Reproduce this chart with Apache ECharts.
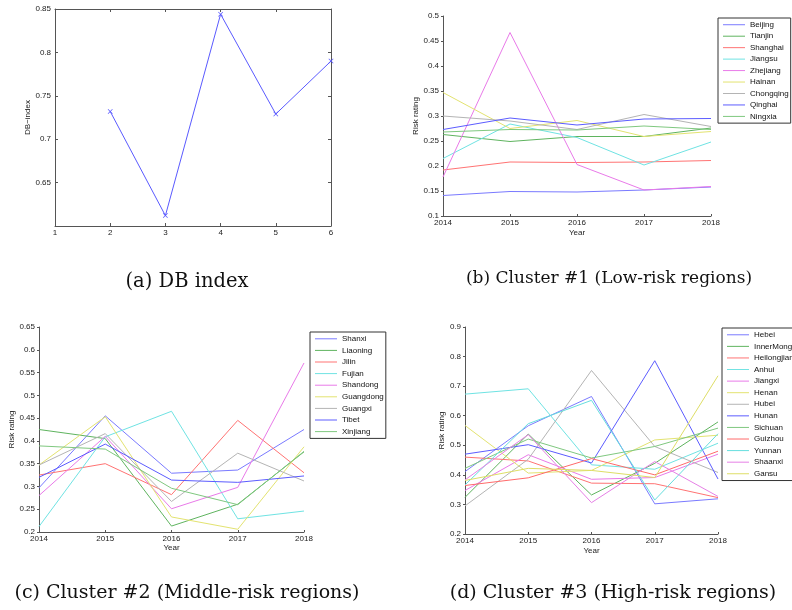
<!DOCTYPE html>
<html>
<head>
<meta charset="utf-8">
<script src="https://cdn.jsdelivr.net/npm/echarts@6/dist/echarts.min.js"></script>
<style>
html,body{margin:0;padding:0;background:#fff;}
#chart{width:792px;height:610px;}
</style>
</head>
<body>
<div id="chart"></div>
<script>
// ---------- DATA ----------
const kValues = [2, 3, 4, 5, 6];
const dbIndex = [0.732, 0.612, 0.844, 0.729, 0.790];

const years = ['2014', '2015', '2016', '2017', '2018'];

// Cluster #1 (low-risk)
const c1Names = ['Beijing', 'Tianjin', 'Shanghai', 'Jiangsu', 'Zhejiang', 'Hainan', 'Chongqing', 'Qinghai', 'Ningxia'];
const beijing   = [0.141, 0.149, 0.148, 0.152, 0.158];
const tianjin   = [0.263, 0.249, 0.259, 0.259, 0.276];
const shanghai  = [0.192, 0.208, 0.207, 0.208, 0.211];
const jiangsu   = [0.215, 0.284, 0.257, 0.202, 0.248];
const zhejiang  = [0.178, 0.467, 0.203, 0.152, 0.159];
const hainan    = [0.347, 0.275, 0.291, 0.259, 0.269];
const chongqing = [0.300, 0.290, 0.273, 0.303, 0.279];
const qinghai   = [0.273, 0.296, 0.282, 0.294, 0.295];
const ningxia   = [0.268, 0.273, 0.272, 0.280, 0.273];

// Cluster #2 (middle-risk)
const c2Names = ['Shanxi', 'Liaoning', 'Jilin', 'Fujian', 'Shandong', 'Guangdong', 'Guangxi', 'Tibet', 'Xinjiang'];
const shanxi    = [0.297, 0.455, 0.329, 0.336, 0.425];
const liaoning  = [0.425, 0.405, 0.213, 0.261, 0.376];
const jilin     = [0.325, 0.350, 0.282, 0.445, 0.330];
const fujian    = [0.212, 0.409, 0.465, 0.229, 0.246];
const shandong  = [0.280, 0.410, 0.251, 0.298, 0.571];
const guangdong = [0.347, 0.453, 0.233, 0.206, 0.387];
const guangxi   = [0.347, 0.416, 0.267, 0.373, 0.312];
const tibet     = [0.320, 0.393, 0.314, 0.309, 0.323];
const xinjiang  = [0.389, 0.382, 0.296, 0.260, 0.377];

// Cluster #3 (high-risk)
const c3Names = ['Hebei', 'InnerMongolia', 'Heilongjiang', 'Anhui', 'Jiangxi', 'Henan', 'Hubei', 'Hunan', 'Sichuan', 'Guizhou', 'Yunnan', 'Shaanxi', 'Gansu'];
const hebei         = [0.411, 0.566, 0.665, 0.302, 0.319];
const innerMongolia = [0.324, 0.538, 0.332, 0.439, 0.579];
const heilongjiang  = [0.460, 0.447, 0.372, 0.370, 0.323];
const anhui         = [0.673, 0.691, 0.434, 0.419, 0.507];
const jiangxi       = [0.347, 0.468, 0.385, 0.391, 0.470];
const henan         = [0.567, 0.406, 0.415, 0.518, 0.534];
const hubei         = [0.295, 0.453, 0.753, 0.496, 0.408];
const hunan         = [0.470, 0.502, 0.440, 0.786, 0.386];
const sichuan       = [0.422, 0.521, 0.457, 0.496, 0.558];
const guizhou       = [0.364, 0.390, 0.455, 0.400, 0.480];
const yunnan        = [0.366, 0.573, 0.652, 0.315, 0.539];
const shaanxi       = [0.383, 0.536, 0.306, 0.445, 0.327];
const gansu         = [0.381, 0.422, 0.415, 0.391, 0.735];

const c1Values = [beijing, tianjin, shanghai, jiangsu, zhejiang, hainan, chongqing, qinghai, ningxia];
const c2Values = [shanxi, liaoning, jilin, fujian, shandong, guangdong, guangxi, tibet, xinjiang];
const c3Values = [hebei, innerMongolia, heilongjiang, anhui, jiangxi, henan, hubei, hunan, sichuan, guizhou, yunnan, shaanxi, gansu];

const captions = ['(a) DB index', '(b) Cluster #1 (Low-risk regions)', '(c) Cluster #2 (Middle-risk regions)', '(d) Cluster #3 (High-risk regions)'];

// ---------- STYLE ----------
const palette = ['#7a7aff', '#5fb45f', '#ff7373', '#6fe3e3', '#e97ae9', '#e3e370', '#b4b4b4', '#5c5cff', '#7fc87f', '#ff6a6a', '#66dede', '#e680e6', '#dede66'];
const SANS = 'Liberation Sans, Arial, sans-serif';
const SERIF = 'DejaVu Serif, serif';
const axisCol = '#555';
const labelCol = '#222';

const grids = [
  {left: 55, top: 9, width: 276, height: 217},
  {left: 443, top: 16, width: 268, height: 200},
  {left: 39, top: 327, width: 265, height: 205},
  {left: 465, top: 327, width: 253, height: 207}
];

function yAxisCfg(gi, min, max, interval, name, gap, extra) {
  return Object.assign({
    type: 'value', gridIndex: gi, min: min, max: max, interval: interval,
    name: name, nameLocation: 'middle', nameGap: gap,
    nameTextStyle: {fontFamily: SANS, fontSize: 8, color: labelCol},
    axisLine: {show: true, lineStyle: {color: axisCol, width: 1}},
    axisTick: {show: true, inside: false, length: 2, lineStyle: {color: axisCol}},
    axisLabel: {fontFamily: SANS, fontSize: 8, color: labelCol, margin: 4},
    splitLine: {show: false}
  }, extra || {});
}
function xCatCfg(gi, gap) {
  return {
    type: 'category', gridIndex: gi, data: years, boundaryGap: false,
    name: 'Year', nameLocation: 'middle', nameGap: gap,
    nameTextStyle: {fontFamily: SANS, fontSize: 8, color: labelCol},
    axisLine: {show: true, lineStyle: {color: axisCol, width: 1}},
    axisTick: {show: true, inside: true, length: 2, alignWithLabel: true, lineStyle: {color: axisCol}},
    axisLabel: {fontFamily: SANS, fontSize: 8, color: labelCol, margin: 3, showMinLabel: true, showMaxLabel: true, interval: 0},
    splitLine: {show: false}
  };
}

const series = [];
series.push({
  type: 'line', xAxisIndex: 0, yAxisIndex: 0,
  data: kValues.map((k, i) => [k, dbIndex[i]]),
  symbol: 'path://M0,1L1,0L5,4L9,0L10,1L6,5L10,9L9,10L5,6L1,10L0,9L4,5Z', symbolSize: 5,
  lineStyle: {color: '#5a5aff', width: 1}, itemStyle: {color: '#5a5aff'},
  animation: false, silent: true
});
function addCluster(names, values, axisIdx) {
  names.forEach((n, i) => {
    series.push({
      type: 'line', name: n, xAxisIndex: axisIdx, yAxisIndex: axisIdx,
      data: values[i], showSymbol: false, symbol: 'none',
      lineStyle: {color: palette[i], width: 1}, itemStyle: {color: palette[i]},
      animation: false, silent: true
    });
  });
}
addCluster(c1Names, c1Values, 2);
addCluster(c2Names, c2Values, 3);
addCluster(c3Names, c3Values, 4);

function legendCfg(names, left, top, lh) {
  return {
    data: names, orient: 'vertical', left: left, top: top,
    icon: 'rect', itemWidth: 22, itemHeight: 1, itemGap: 0,
    padding: [1, 2, 1, 5],
    borderColor: '#333', borderWidth: 1, backgroundColor: '#fff',
    textStyle: {fontFamily: SANS, fontSize: 8, color: '#111', lineHeight: lh, padding: [0, 0, 0, 0]},
    selectedMode: false
  };
}

function caption(i, x, y, size) {
  return {type: 'text', x: x, y: y, style: {text: captions[i], font: size + 'px ' + SERIF, fill: '#111', textAlign: 'center', textVerticalAlign: 'middle'}};
}

const option = {
  backgroundColor: '#fff',
  animation: false,
  grid: grids,
  xAxis: [
    {type: 'value', gridIndex: 0, min: 1, max: 6, interval: 1,
     axisLine: {show: true, onZero: false, lineStyle: {color: axisCol}},
     axisTick: {show: true, inside: true, length: 3, lineStyle: {color: axisCol}},
     axisLabel: {fontFamily: SANS, fontSize: 8, color: labelCol, margin: 3},
     splitLine: {show: false}},
    {type: 'value', gridIndex: 0, position: 'top', min: 1, max: 6, interval: 1,
     axisLine: {show: true, onZero: false, lineStyle: {color: axisCol}},
     axisTick: {show: true, inside: true, length: 3, lineStyle: {color: axisCol}},
     axisLabel: {show: false}, splitLine: {show: false}},
    xCatCfg(1, 13),
    xCatCfg(2, 12),
    xCatCfg(3, 13)
  ],
  yAxis: [
    yAxisCfg(0, 0.6, 0.85, 0.05, 'DB\u2212index', 23, {
      axisTick: {show: true, inside: true, length: 3, lineStyle: {color: axisCol}},
      axisLabel: {fontFamily: SANS, fontSize: 8, color: labelCol, margin: 4, showMinLabel: false}
    }),
    {type: 'value', gridIndex: 0, position: 'right', min: 0.6, max: 0.85, interval: 0.05,
     axisLine: {show: true, onZero: false, lineStyle: {color: axisCol}},
     axisTick: {show: true, inside: true, length: 3, lineStyle: {color: axisCol}},
     axisLabel: {show: false}, splitLine: {show: false}},
    yAxisCfg(1, 0.1, 0.5, 0.05, 'Risk rating', 23),
    yAxisCfg(2, 0.2, 0.65, 0.05, 'Risk rating', 22),
    yAxisCfg(3, 0.2, 0.9, 0.1, 'Risk rating', 17)
  ],
  legend: [
    legendCfg(c1Names, 718, 18, 11.46),
    legendCfg(c2Names, 310, 332, 11.6),
    legendCfg(c3Names, 722, 328, 11.58)
  ],
  series: series,
  graphic: [
    caption(0, 187, 282, 19.5),
    caption(1, 609, 279, 17),
    caption(2, 187, 593, 19),
    caption(3, 613, 593, 19)
  ]
};

const chart = echarts.init(document.getElementById('chart'), null, {renderer: 'canvas'});
chart.setOption(option);
</script>
</body>
</html>
